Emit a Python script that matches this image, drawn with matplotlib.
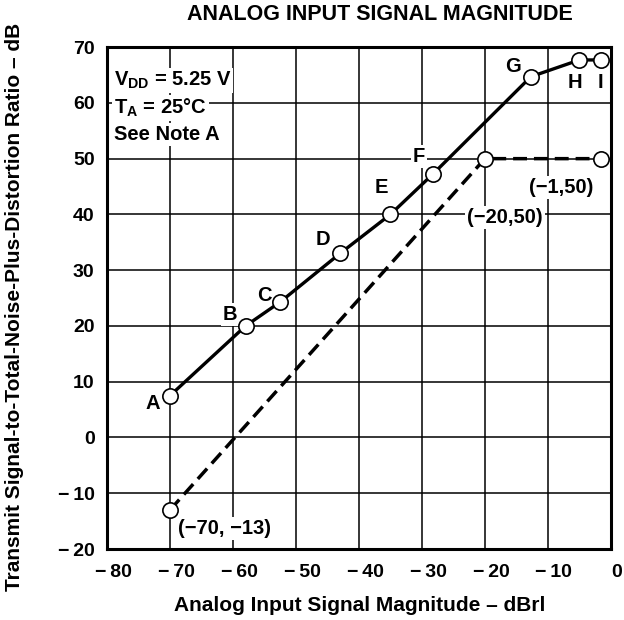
import matplotlib
matplotlib.use('Agg')
import matplotlib.pyplot as plt
import matplotlib.transforms as mtrans

plt.rcParams['font.family'] = ['Liberation Sans', 'DejaVu Sans']
plt.rcParams['font.weight'] = 'bold'
plt.rcParams['mathtext.fontset'] = 'custom'
plt.rcParams['mathtext.rm'] = 'Liberation Sans:bold'
plt.rcParams['mathtext.it'] = 'Liberation Sans:bold'
plt.rcParams['mathtext.bf'] = 'Liberation Sans:bold'

# measured curve A..I
solid_x = [-70, -58, -52.5, -43, -35, -28.2, -12.7, -5, -1.5]
solid_y = [7.5, 20, 24.3, 33, 40, 47.3, 64.7, 67.7, 67.7]
point_names = ['A', 'B', 'C', 'D', 'E', 'F', 'G', 'H', 'I']
name_x = [-72.7, -60.5, -55, -45.7, -36.5, -30.5, -15.6, -5.7, -1.6]
name_y = [6.1, 22, 25.5, 35.5, 44.8, 50.4, 66.6, 63.6, 63.6]

# ideal limit curve
dash_x = [-70, -20, -1.5]
dash_y = [-13, 50, 50]
dash_labels = ['(\u221270, \u221213)', '(\u221220,50)', '(\u22121,50)']
dash_lx = [-61.3, -16.8, -7.9]
dash_ly = [-16.4, 39.5, 44.8]

xticks = list(range(-80, 1, 10))
yticks = list(range(-20, 71, 10))

fs = 14.5


def fmt(t):
    return '\u2212\u2009' + str(-t) if t < 0 else str(t)


fig = plt.figure(figsize=(6.24, 6.20), dpi=100)
ax = fig.add_axes([0.1715, 0.1145, 0.8075, 0.8095])
ax.set_xlim(-80, 0)
ax.set_ylim(-20, 70)
ax.set_xticks(xticks)
ax.set_yticks(yticks)
ax.set_xticklabels([fmt(t) for t in xticks])
ax.set_yticklabels([fmt(t) for t in yticks])
ax.tick_params(length=0, labelsize=14)
ax.tick_params(axis='x', pad=11)
ax.tick_params(axis='y', pad=9)
shift = mtrans.ScaledTranslation(6 / 100, 0, fig.dpi_scale_trans)
for lab in ax.get_xticklabels():
    lab.set_transform(lab.get_transform() + shift)
ax.grid(True, color='black', linewidth=1.1, zorder=0)
for s in ax.spines.values():
    s.set_linewidth(2.2)

ax.plot(dash_x, dash_y, color='black', linewidth=2.5, linestyle=(0, (4, 2)),
        marker='o', markersize=11, markerfacecolor='white', markeredgecolor='black',
        markeredgewidth=1.2, zorder=3, clip_on=False)
ax.plot(solid_x, solid_y, color='black', linewidth=2.4,
        marker='o', markersize=11, markerfacecolor='white', markeredgecolor='black',
        markeredgewidth=1.2, zorder=4, clip_on=False)

wbox = dict(facecolor='white', edgecolor='none', pad=1.5)
for n, x, y in zip(point_names, name_x, name_y):
    ax.text(x, y, n, fontsize=fs, ha='center', va='center', bbox=wbox, zorder=2)
for t, x, y in zip(dash_labels, dash_lx, dash_ly):
    ax.text(x, y, t, fontsize=fs, ha='center', va='center', bbox=wbox, zorder=2)

ax.text(-78.9, 63.0, r'V$_{\mathrm{DD}}$ = 5.25 V', fontsize=fs, ha='left', va='baseline', bbox=wbox, zorder=2)
ax.text(-78.9, 58.0, r'T$_{\mathrm{A}}$ = 25$\degree$C', fontsize=fs, ha='left', va='baseline', bbox=wbox, zorder=2)
ax.text(-78.9, 53.4, 'See Note A', fontsize=fs, ha='left', va='baseline', bbox=wbox, zorder=2)

fig.text(0.609, 0.977, 'ANALOG INPUT SIGNAL MAGNITUDE', fontsize=15.5, ha='center', va='center')
fig.text(0.577, 0.024, 'Analog Input Signal Magnitude \u2013 dBrl', fontsize=15, ha='center', va='center')
fig.text(0.023, 0.505, 'Transmit Signal-to-Total-Noise-Plus-Distortion Ratio \u2013 dB',
         fontsize=15, rotation=90, ha='center', va='center')

fig.savefig('out.png', dpi=100)
